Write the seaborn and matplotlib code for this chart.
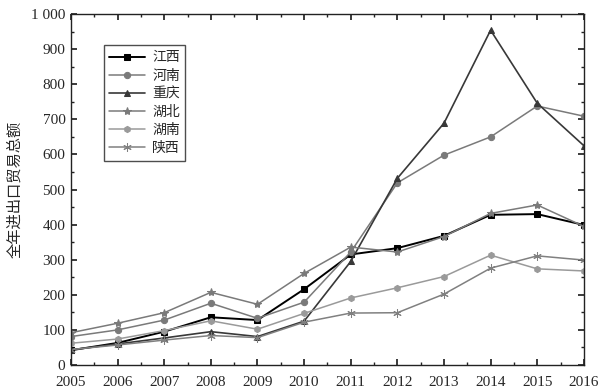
import matplotlib
matplotlib.use("Agg")
import matplotlib.pyplot as plt
from matplotlib.ticker import MultipleLocator, FuncFormatter
import seaborn as sns
import pandas as pd

years = [2005, 2006, 2007, 2008, 2009, 2010, 2011, 2012, 2013, 2014, 2015, 2016]
provinces = ["江西", "河南", "重庆", "湖北", "湖南", "陕西"]
jiangxi = [42, 63, 95, 136, 128, 216, 315, 333, 368, 428, 430, 399]
henan = [81, 100, 128, 176, 133, 179, 322, 519, 598, 650, 738, 709]
chongqing = [43, 60, 77, 95, 81, 125, 295, 532, 689, 954, 746, 625]
hubei = [92, 119, 149, 207, 173, 261, 336, 322, 366, 432, 456, 395]
hunan = [62, 74, 98, 126, 102, 147, 191, 220, 252, 313, 274, 268]
shaanxi = [44, 57, 71, 84, 78, 122, 148, 149, 202, 276, 311, 299]
ylabel = "全年进出口贸易总额"

series = [jiangxi, henan, chongqing, hubei, hunan, shaanxi]
rows = []
for p, vals in zip(provinces, series):
    for y, v in zip(years, vals):
        rows.append({"year": y, "value": v, "province": p})
df = pd.DataFrame(rows)

sns.set_theme(style="ticks")
plt.rcParams["font.family"] = ["Liberation Serif", "Noto Sans CJK SC"]

palette = {"江西": "#000000", "河南": "#7a7a7a", "重庆": "#383838",
           "湖北": "#7a7a7a", "湖南": "#9a9a9a", "陕西": "#808080"}
markers = {"江西": "s", "河南": "o", "重庆": "^", "湖北": "*", "湖南": "h", "陕西": (6, 2, 0)}
msizes = {"江西": 4.5, "河南": 4.5, "重庆": 5, "湖北": 6, "湖南": 4.5, "陕西": 6}
widths = {"江西": 1.4, "河南": 1.1, "重庆": 1.2, "湖北": 1.1, "湖南": 1.1, "陕西": 1.1}

fig = plt.figure(figsize=(6.12, 3.91), dpi=100)
ax = fig.add_axes([0.116, 0.0665, 0.838, 0.8975])

for p in provinces:
    sns.lineplot(data=df[df["province"] == p], x="year", y="value", ax=ax,
                 color=palette[p], marker=markers[p], markersize=msizes[p],
                 markeredgecolor=palette[p], linewidth=widths[p], label=p)

ax.set_xlim(2005, 2016)
ax.set_ylim(0, 1000)
ax.set_xticks(years)
ax.xaxis.set_minor_locator(MultipleLocator(0.5))
ax.yaxis.set_major_locator(MultipleLocator(100))
ax.yaxis.set_minor_locator(MultipleLocator(50))
ax.yaxis.set_major_formatter(FuncFormatter(lambda v, pos: "1 000" if v >= 1000 else f"{int(v)}"))
ax.tick_params(which="both", direction="in", top=True, right=True, labelsize=11, color="#222222")
ax.tick_params(which="major", length=4)
ax.tick_params(which="minor", length=2.5)
ax.tick_params(axis="x", pad=8)
ax.tick_params(axis="y", pad=4)
for s in ax.spines.values():
    s.set_color("#222222")
    s.set_linewidth(1.0)
ax.set_xlabel("")
ax.set_ylabel(ylabel, fontsize=11, family=["Noto Sans CJK SC"], labelpad=6)
leg = ax.legend(loc="upper left", bbox_to_anchor=(0.05, 0.932), frameon=True, fancybox=False,
                edgecolor="#222222", handlelength=2.6, borderpad=0.4, handletextpad=0.5,
                labelspacing=0.3, prop={"family": ["Noto Sans CJK SC"], "size": 10})
leg.get_frame().set_linewidth(1.0)
fig.savefig("out.png", dpi=100)
